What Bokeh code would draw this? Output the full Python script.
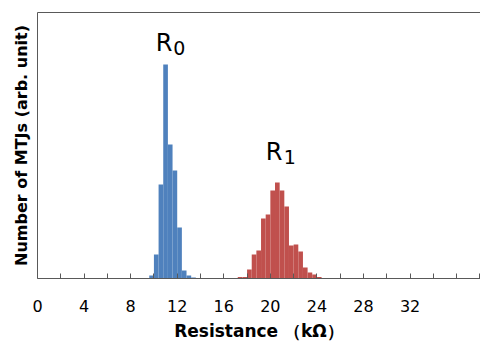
from bokeh.plotting import figure
from bokeh.models import ColumnDataSource, Range1d, LinearAxis, FixedTicker, Label
from bokeh.embed import file_html
from bokeh.resources import INLINE

# ---- data ----
bin_width = 0.4
blue_left = [9.6, 10.0, 10.4, 10.8, 11.2, 11.6, 12.0, 12.4, 12.8, 13.2]
blue_counts = [3, 24, 94, 214, 134, 108, 51, 8, 3, 1]
red_left = [17.2, 17.6, 18.0, 18.4, 18.8, 19.2, 19.6, 20.0, 20.4, 20.8,
            21.2, 21.6, 22.0, 22.4, 22.8, 23.2, 23.6, 24.0]
red_counts = [1.5, 1.5, 9, 24, 28, 60, 64, 88, 96, 88,
              72, 33, 34, 27, 11, 6, 4, 1.5]
tick_values = list(range(0, 40, 2))
tick_labels = [0, 4, 8, 12, 16, 20, 24, 28, 32]
x_label = "Resistance （kΩ）"
y_label = "Number of MTJs (arb. unit)"

BLUE = "#4F81BD"
RED = "#C0504D"
AXIS = "#595959"

p = figure(width=480, height=345, output_backend="svg", toolbar_location=None,
           x_range=Range1d(0, 38.05), y_range=Range1d(0, 266),
           x_axis_location=None, y_axis_location=None,
           min_border_left=37, min_border_right=0, min_border_top=12, min_border_bottom=67)
p.outline_line_color = None
p.xgrid.visible = False
p.ygrid.visible = False
p.background_fill_color = "white"
p.border_fill_color = "white"

blue_src = ColumnDataSource(dict(left=blue_left,
                                 right=[v + bin_width for v in blue_left],
                                 top=blue_counts))
red_src = ColumnDataSource(dict(left=red_left,
                                right=[v + bin_width for v in red_left],
                                top=red_counts))
p.quad(left="left", right="right", bottom=0, top="top", source=blue_src,
       fill_color=BLUE, line_color=None)
p.quad(left="left", right="right", bottom=0, top="top", source=red_src,
       fill_color=RED, line_color=None)

# bottom axis
xax = LinearAxis(ticker=FixedTicker(ticks=tick_values))
xax.major_label_overrides = {v: (str(v) if v in tick_labels else "") for v in tick_values}
xax.major_tick_in = 5
xax.major_tick_out = 0
xax.minor_tick_in = 0
xax.minor_tick_out = 0
xax.axis_line_color = AXIS
xax.major_tick_line_color = AXIS
xax.major_label_text_font = "DejaVu Sans"
xax.major_label_text_font_size = "16px"
xax.major_label_text_color = "black"
xax.major_label_standoff = 21
xax.axis_label = x_label
xax.axis_label_text_font = "DejaVu Sans"
xax.axis_label_text_font_style = "bold"
xax.axis_label_text_font_size = "17px"
xax.axis_label_text_color = "black"
xax.axis_label_standoff = 6
p.add_layout(xax, "below")

# left axis (line + label only)
yax = LinearAxis(ticker=FixedTicker(ticks=[]))
yax.major_tick_in = 0
yax.major_tick_out = 0
yax.minor_tick_in = 0
yax.minor_tick_out = 0
yax.major_label_standoff = 0
yax.axis_line_color = AXIS
yax.axis_label = y_label
yax.axis_label_text_font = "DejaVu Sans"
yax.axis_label_text_font_style = "bold"
yax.axis_label_text_font_size = "16px"
yax.axis_label_text_color = "black"
yax.axis_label_standoff = 7
p.add_layout(yax, "left")

# top frame line
tax = LinearAxis(ticker=FixedTicker(ticks=[]))
tax.major_tick_in = 0
tax.major_tick_out = 0
tax.minor_tick_in = 0
tax.minor_tick_out = 0
tax.major_label_standoff = 0
tax.axis_line_color = AXIS
p.add_layout(tax, "above")

# peak annotations
for txt, sub, x, y, xs, ys in [("R", "0", 10.15, 236, 11.65, 231),
                               ("R", "1", 19.6, 127, 21.15, 122)]:
    p.add_layout(Label(x=x, y=y, text=txt, text_font="DejaVu Sans",
                       text_font_size="24px", text_color="black",
                       text_baseline="alphabetic"))
    p.add_layout(Label(x=xs, y=ys, text=sub, text_font="DejaVu Sans",
                       text_font_size="19px", text_color="black",
                       text_baseline="alphabetic"))

open("out.html", "w").write(file_html(p, INLINE))
